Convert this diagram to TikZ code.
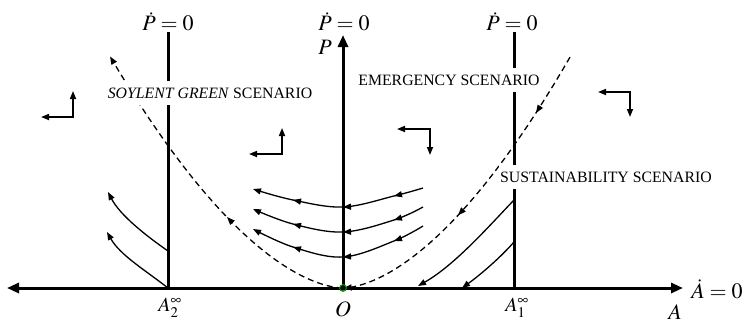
\documentclass[tikz,border=0pt]{standalone}
\usepackage{mathptmx}
\usepackage{fontspec}
\setmainfont{Liberation Serif}
\usetikzlibrary{arrows.meta}
\begin{document}
\begin{tikzpicture}[x=1pt,y=-1pt,
  tri/.tip={Triangle[length=8pt,width=6pt]},
  bigtri/.tip={Triangle[length=12pt,width=10pt]},
  axis/.style={line width=3pt},
  iso/.style={line width=3pt},
  traj/.style={line width=1.3pt},
  sep/.style={line width=1.3pt, dash pattern=on 6pt off 4pt},
  head/.style={line width=1.3pt, -{tri}},
  dirarrow/.style={line width=1.6pt, {tri}-{tri}},
  mlabel/.style={font=\fontsize{22}{26}\selectfont, inner sep=0pt},
  slabel/.style={font=\fontsize{20}{24}\selectfont, inner sep=0pt},
  scen/.style={font=\fontsize{15.8}{18}\selectfont, fill=white, inner xsep=1pt, inner ysep=7pt}]
\useasboundingbox (0,0) rectangle (742,327);

% named points
\coordinate (O) at (343,288);
\coordinate (Ptop) at (343,35);
\coordinate (Aleft) at (7,288);
\coordinate (Aright) at (683,288);
\coordinate (A2top) at (168,32);
\coordinate (A2bot) at (168,288);
\coordinate (A1top) at (514,32);
\coordinate (A1bot) at (514,288);

% isoclines
\draw[iso] (A2top) -- (A2bot);
\draw[iso] (A1top) -- (A1bot);

% axes
\draw[axis,{bigtri}-{bigtri}] (Aleft) -- (Aright);
\draw[axis,-{bigtri}] (O) -- (Ptop);

% separatrix (dashed)
\draw[sep, -{tri}] plot[domain=0.005:2.33, samples=60, variable=\t]
  ({343-100*\t},{288-55*pow(\t,1.7)});
\draw[sep, -{tri}] plot[domain=2.27:0.005, samples=60, variable=\t]
  ({343+100*\t},{288-57.3*pow(\t,1.7)});
\draw[head] (232.5,222.8) -- (227,217);
\draw[head] (540.3,106.3) -- (536,113);
\draw[head] (463.4,209.5) -- (458,215.3);

% central trajectories
\draw[traj, -{tri}] plot[smooth, tension=0.6] coordinates
  {(423,188) (394,196) (343,207) (293,200) (253,189)};
\draw[traj, -{tri}] plot[smooth, tension=0.6] coordinates
  {(423,207) (394,220) (343,232) (293,224) (253,209)};
\draw[traj, -{tri}] plot[smooth, tension=0.6] coordinates
  {(423,226) (394,241) (343,257) (293,247) (253,229)};
\draw[head] (401.8,194.2) -- (394,196);
\draw[head] (351,206.7) -- (343,207);
\draw[head] (300.8,201.6) -- (293,200);
\draw[head] (401.6,217.6) -- (394,220);
\draw[head] (351,231.7) -- (343,232);
\draw[head] (300.8,226) -- (293,224);
\draw[head] (401.5,238.1) -- (394,241);
\draw[head] (351,256.5) -- (343,257);
\draw[head] (300.6,249.4) -- (293,247);

% left trajectories from A2 line
\coordinate (L1s) at (168,251);
\coordinate (L1e) at (108,192);
\coordinate (L2e) at (107,232);
\draw[traj, -{tri}] (L1s) .. controls (145,235) and (120,215) .. (L1e);
\draw[traj, -{tri}] (A2bot) .. controls (145,270) and (120,255) .. (L2e);

% right trajectories from A1 line
\coordinate (R1s) at (514,200);
\coordinate (R1e) at (418,286);
\coordinate (R2s) at (514,242);
\coordinate (R2e) at (462,288);
\draw[traj, -{tri}] (R1s) .. controls (490,225) and (455,265) .. (R1e);
\draw[traj, -{tri}] (R2s) .. controls (500,258) and (480,275) .. (R2e);

% direction indicators
\coordinate (d1) at (73,117);
\coordinate (d2) at (282,154);
\coordinate (d3) at (430,129);
\coordinate (d4) at (630,92);
\draw[dirarrow] (41,117) -- (d1) -- (73,91);
\draw[dirarrow] (249,154) -- (d2) -- (282,128);
\draw[dirarrow] (397,129) -- (d3) -- (430,155);
\draw[dirarrow] (598,92) -- (d4) -- (630,117);

% origin dot
\fill[black] (O) circle (2.8pt);
\draw[green!60!black, line width=1pt] (O) circle (3.4pt);

% scenario labels
\node[scen] (sg) at (210,93) {\textit{SOYLENT GREEN} SCENARIO};
\node[scen] (em) at (449,80) {EMERGENCY SCENARIO};
\node[scen] (su) at (606,177) {SUSTAINABILITY SCENARIO};

% math labels
\node[mlabel] (pd1) at (168,22) {$\dot P = 0$};
\node[mlabel] (pd2) at (344,22) {$\dot P = 0$};
\node[mlabel] (pd3) at (512,22) {$\dot P = 0$};
\node[mlabel] (pl) at (325,47) {$P$};
\node[mlabel] (ad) at (717,289) {$\dot A = 0$};
\node[mlabel] (al) at (675,312) {$A$};
\node[mlabel] (ol) at (343,309) {$O$};
\node[slabel] (a2) at (170,308) {$A_2^\infty$};
\node[slabel] (a1) at (517,308) {$A_1^\infty$};
\end{tikzpicture}
\end{document}
